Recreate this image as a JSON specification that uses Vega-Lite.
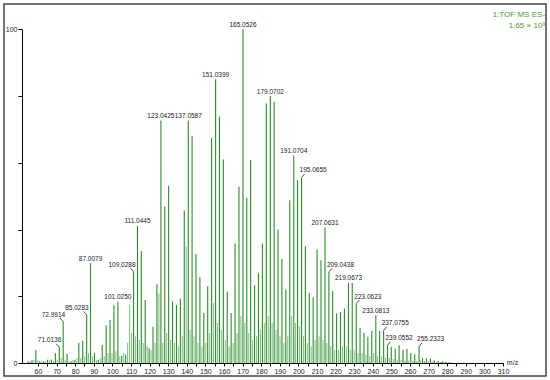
{
  "$schema": "https://vega.github.io/schema/vega-lite/v6.json",
  "width": 542,
  "height": 372,
  "padding": {"left": 4, "top": 4, "right": 4, "bottom": 4},
  "autosize": {"type": "none"},
  "background": "white",
  "config": {
    "font": "Liberation Sans",
    "view": {"stroke": "#444444", "strokeWidth": 1.5},
    "axis": {"grid": false, "domainColor": "#000000", "tickColor": "#000000", "labelColor": "#222222", "labelFontSize": 7, "labelFont": "Liberation Sans"}
  },
  "datasets": {
    "peaks": [
      {"mz": 55, "i": 0.5, "s": "main"}, {"mz": 57, "i": 0.8, "s": "main"}, {"mz": 59, "i": 3.9, "s": "main"}, {"mz": 61, "i": 0.5, "s": "main"},
      {"mz": 63, "i": 0.5, "s": "main"}, {"mz": 65, "i": 1, "s": "main"}, {"mz": 67, "i": 1, "s": "main"}, {"mz": 69, "i": 2.9, "s": "main"},
      {"mz": 71.0136, "i": 4.7, "s": "main", "label": "71.0136"}, {"mz": 72.9914, "i": 12.4, "s": "main", "label": "72.9914"},
      {"mz": 75, "i": 2.7, "s": "main"}, {"mz": 77, "i": 0.5, "s": "main"}, {"mz": 79, "i": 1, "s": "main"}, {"mz": 81, "i": 6.1, "s": "main"},
      {"mz": 83, "i": 6.7, "s": "main"}, {"mz": 85.0283, "i": 14.4, "s": "main", "label": "85.0283"}, {"mz": 87.0079, "i": 29.9, "s": "main", "label": "87.0079"},
      {"mz": 89, "i": 3.1, "s": "main"}, {"mz": 91, "i": 1, "s": "main"}, {"mz": 93, "i": 5.4, "s": "main"}, {"mz": 95, "i": 11.3, "s": "main"},
      {"mz": 97, "i": 12.9, "s": "main"}, {"mz": 99, "i": 17.4, "s": "main"}, {"mz": 101.025, "i": 18.4, "s": "main", "label": "101.0250"},
      {"mz": 103, "i": 2.2, "s": "main"}, {"mz": 105, "i": 2.5, "s": "main"}, {"mz": 107, "i": 17.4, "s": "minor"},
      {"mz": 109.0288, "i": 27.4, "s": "main", "label": "109.0288"}, {"mz": 111.0445, "i": 41.1, "s": "main", "label": "111.0445"},
      {"mz": 113, "i": 33.6, "s": "main"}, {"mz": 115, "i": 18.9, "s": "main"}, {"mz": 117, "i": 4.4, "s": "main"}, {"mz": 119, "i": 10.9, "s": "main"},
      {"mz": 121, "i": 23.6, "s": "main"}, {"mz": 123.0425, "i": 72.7, "s": "main", "label": "123.0425"}, {"mz": 125, "i": 46.9, "s": "main"},
      {"mz": 127, "i": 53.1, "s": "main"}, {"mz": 129, "i": 18.4, "s": "main"}, {"mz": 131, "i": 17.4, "s": "main"}, {"mz": 133, "i": 19.3, "s": "main"},
      {"mz": 135, "i": 45.7, "s": "main"}, {"mz": 137.0587, "i": 72.7, "s": "main", "label": "137.0587"}, {"mz": 139, "i": 68.1, "s": "main"},
      {"mz": 141, "i": 32.7, "s": "main"}, {"mz": 143, "i": 25.8, "s": "main"}, {"mz": 145, "i": 15, "s": "main"}, {"mz": 147, "i": 23, "s": "main"},
      {"mz": 149, "i": 67.4, "s": "main"}, {"mz": 151.0399, "i": 85, "s": "main", "label": "151.0399"}, {"mz": 153, "i": 73.8, "s": "main"},
      {"mz": 155, "i": 61, "s": "main"}, {"mz": 157, "i": 21.4, "s": "main"}, {"mz": 159, "i": 15, "s": "main"}, {"mz": 161, "i": 35.8, "s": "main"},
      {"mz": 163, "i": 52.8, "s": "main"}, {"mz": 165.0526, "i": 100, "s": "main", "label": "165.0526"}, {"mz": 167, "i": 49.5, "s": "main"},
      {"mz": 169, "i": 60.8, "s": "main"}, {"mz": 171, "i": 23.3, "s": "main"}, {"mz": 173, "i": 27, "s": "main"}, {"mz": 175, "i": 35.8, "s": "main"},
      {"mz": 177, "i": 77.8, "s": "main"}, {"mz": 179.0702, "i": 80, "s": "main", "label": "179.0702"}, {"mz": 181, "i": 78.3, "s": "main"},
      {"mz": 183, "i": 40, "s": "main"}, {"mz": 185, "i": 31.2, "s": "main"}, {"mz": 187, "i": 22, "s": "main"}, {"mz": 189, "i": 48.8, "s": "main"},
      {"mz": 191.0704, "i": 62.2, "s": "main", "label": "191.0704"}, {"mz": 193, "i": 54.8, "s": "main"}, {"mz": 195.0655, "i": 55.6, "s": "main", "label": "195.0655"},
      {"mz": 197, "i": 35, "s": "main"}, {"mz": 199, "i": 21, "s": "main"}, {"mz": 201, "i": 19.6, "s": "main"}, {"mz": 203, "i": 34, "s": "main"},
      {"mz": 205, "i": 30.8, "s": "main"}, {"mz": 207.0631, "i": 40.6, "s": "main", "label": "207.0631"}, {"mz": 209.0438, "i": 27.3, "s": "main", "label": "209.0438"},
      {"mz": 211, "i": 21.6, "s": "main"}, {"mz": 213, "i": 14.8, "s": "main"}, {"mz": 215, "i": 15.3, "s": "main"}, {"mz": 217, "i": 16.3, "s": "main"},
      {"mz": 219.0673, "i": 24, "s": "main", "label": "219.0673"}, {"mz": 221, "i": 24, "s": "main"}, {"mz": 223.0623, "i": 17.8, "s": "main", "label": "223.0623"},
      {"mz": 225, "i": 10.6, "s": "main"}, {"mz": 227, "i": 9, "s": "main"}, {"mz": 229, "i": 7.9, "s": "main"}, {"mz": 231, "i": 9.7, "s": "main"},
      {"mz": 233.0813, "i": 14.3, "s": "main", "label": "233.0813"}, {"mz": 235, "i": 9.6, "s": "main"}, {"mz": 237.0755, "i": 9.8, "s": "main", "label": "237.0755"},
      {"mz": 239.0552, "i": 5.3, "s": "main", "label": "239.0552"}, {"mz": 241, "i": 4.8, "s": "main"}, {"mz": 243, "i": 4.3, "s": "main"},
      {"mz": 245, "i": 5.3, "s": "main"}, {"mz": 247, "i": 4, "s": "main"}, {"mz": 249, "i": 4.3, "s": "main"}, {"mz": 251, "i": 3, "s": "main"},
      {"mz": 253, "i": 2.6, "s": "main"}, {"mz": 255.2323, "i": 5, "s": "main", "label": "255.2323"}, {"mz": 257, "i": 1.4, "s": "main"},
      {"mz": 259, "i": 1.4, "s": "main"}, {"mz": 261, "i": 1.3, "s": "main"}, {"mz": 263, "i": 0.8, "s": "main"}, {"mz": 265, "i": 0.6, "s": "main"},
      {"mz": 267, "i": 0.5, "s": "main"}, {"mz": 269, "i": 0.4, "s": "main"}, {"mz": 271, "i": 0.3, "s": "main"},
      {"mz": 56, "i": 0.5, "s": "minor"}, {"mz": 58, "i": 1, "s": "minor"}, {"mz": 60, "i": 0.8, "s": "minor"}, {"mz": 62, "i": 0.5, "s": "minor"},
      {"mz": 64, "i": 0.5, "s": "minor"}, {"mz": 66, "i": 0.8, "s": "minor"}, {"mz": 68, "i": 0.5, "s": "minor"}, {"mz": 70, "i": 1, "s": "minor"},
      {"mz": 72, "i": 1.5, "s": "minor"}, {"mz": 74, "i": 1, "s": "minor"}, {"mz": 76, "i": 0.5, "s": "minor"}, {"mz": 78, "i": 1, "s": "minor"},
      {"mz": 80, "i": 1.5, "s": "minor"}, {"mz": 82, "i": 1.5, "s": "minor"}, {"mz": 84, "i": 2, "s": "minor"}, {"mz": 86, "i": 3, "s": "minor"},
      {"mz": 88, "i": 2, "s": "minor"}, {"mz": 90, "i": 1, "s": "minor"}, {"mz": 92, "i": 1.5, "s": "minor"}, {"mz": 94, "i": 2, "s": "minor"},
      {"mz": 96, "i": 3, "s": "minor"}, {"mz": 98, "i": 3, "s": "minor"}, {"mz": 100, "i": 3.5, "s": "minor"}, {"mz": 102, "i": 2, "s": "minor"},
      {"mz": 104, "i": 3, "s": "minor"}, {"mz": 106, "i": 6, "s": "minor"}, {"mz": 108, "i": 9, "s": "minor"}, {"mz": 110, "i": 8, "s": "minor"},
      {"mz": 112, "i": 7, "s": "minor"}, {"mz": 114, "i": 6, "s": "minor"}, {"mz": 116, "i": 5, "s": "minor"}, {"mz": 118, "i": 4, "s": "minor"},
      {"mz": 120, "i": 6, "s": "minor"}, {"mz": 122, "i": 20.9, "s": "minor"}, {"mz": 124, "i": 6, "s": "minor"}, {"mz": 126, "i": 9, "s": "minor"},
      {"mz": 128, "i": 7, "s": "minor"}, {"mz": 130, "i": 6, "s": "minor"}, {"mz": 132, "i": 5, "s": "minor"}, {"mz": 134, "i": 8, "s": "minor"},
      {"mz": 136, "i": 34.9, "s": "minor"}, {"mz": 138, "i": 10, "s": "minor"}, {"mz": 140, "i": 8, "s": "minor"}, {"mz": 142, "i": 6, "s": "minor"},
      {"mz": 144, "i": 5, "s": "minor"}, {"mz": 146, "i": 6, "s": "minor"}, {"mz": 148, "i": 9, "s": "minor"}, {"mz": 150, "i": 18, "s": "minor"},
      {"mz": 152, "i": 12, "s": "minor"}, {"mz": 154, "i": 10, "s": "minor"}, {"mz": 156, "i": 7, "s": "minor"}, {"mz": 158, "i": 5, "s": "minor"},
      {"mz": 160, "i": 6, "s": "minor"}, {"mz": 162, "i": 9, "s": "minor"}, {"mz": 164, "i": 14, "s": "minor"}, {"mz": 166, "i": 12, "s": "minor"},
      {"mz": 168, "i": 9, "s": "minor"}, {"mz": 170, "i": 7, "s": "minor"}, {"mz": 172, "i": 8, "s": "minor"}, {"mz": 174, "i": 10, "s": "minor"},
      {"mz": 176, "i": 12, "s": "minor"}, {"mz": 178, "i": 14, "s": "minor"}, {"mz": 180, "i": 12, "s": "minor"}, {"mz": 182, "i": 10, "s": "minor"},
      {"mz": 184, "i": 8, "s": "minor"}, {"mz": 186, "i": 6, "s": "minor"}, {"mz": 188, "i": 8, "s": "minor"}, {"mz": 190, "i": 14, "s": "minor"},
      {"mz": 192, "i": 12, "s": "minor"}, {"mz": 194, "i": 11, "s": "minor"}, {"mz": 196, "i": 8, "s": "minor"}, {"mz": 198, "i": 6, "s": "minor"},
      {"mz": 200, "i": 5, "s": "minor"}, {"mz": 202, "i": 7, "s": "minor"}, {"mz": 204, "i": 8, "s": "minor"}, {"mz": 206, "i": 7, "s": "minor"},
      {"mz": 208, "i": 6, "s": "minor"}, {"mz": 210, "i": 5, "s": "minor"}, {"mz": 212, "i": 4, "s": "minor"}, {"mz": 214, "i": 4, "s": "minor"},
      {"mz": 216, "i": 5, "s": "minor"}, {"mz": 218, "i": 5, "s": "minor"}, {"mz": 220, "i": 4, "s": "minor"}, {"mz": 222, "i": 4, "s": "minor"},
      {"mz": 224, "i": 3, "s": "minor"}, {"mz": 226, "i": 3, "s": "minor"}, {"mz": 228, "i": 2.5, "s": "minor"}, {"mz": 230, "i": 2, "s": "minor"},
      {"mz": 232, "i": 3, "s": "minor"}, {"mz": 234, "i": 2, "s": "minor"}, {"mz": 236, "i": 2, "s": "minor"}, {"mz": 238, "i": 1.5, "s": "minor"},
      {"mz": 240, "i": 1.5, "s": "minor"}, {"mz": 242, "i": 1.2, "s": "minor"}, {"mz": 244, "i": 1, "s": "minor"}, {"mz": 246, "i": 1, "s": "minor"},
      {"mz": 248, "i": 0.8, "s": "minor"}, {"mz": 250, "i": 0.8, "s": "minor"}, {"mz": 252, "i": 0.7, "s": "minor"}, {"mz": 254, "i": 0.6, "s": "minor"},
      {"mz": 256, "i": 0.8, "s": "minor"}, {"mz": 258, "i": 0.6, "s": "minor"}, {"mz": 260, "i": 0.5, "s": "minor"}, {"mz": 262, "i": 0.5, "s": "minor"},
      {"mz": 264, "i": 0.4, "s": "minor"}, {"mz": 266, "i": 0.3, "s": "minor"}, {"mz": 268, "i": 0.3, "s": "minor"}, {"mz": 270, "i": 0.2, "s": "minor"}
    ]
  },
  "layer": [
    {
      "data": {"name": "peaks"},
      "encoding": {
        "x": {"field": "mz", "type": "quantitative", "scale": {"domain": [42.7, 320.21], "nice": false, "zero": false}, "axis": null},
        "y": {"field": "i", "type": "quantitative", "scale": {"domain": [0, 100], "range": [359, 25.3], "nice": false},
          "axis": {"values": [0, 10, 20, 30, 40, 50, 60, 70, 80, 90, 100], "labelExpr": "datum.value == 100 ? '100' : datum.value == 50 ? '%' : datum.value == 0 ? '0' : ''", "offset": -18, "tickSize": 4, "labelPadding": 1, "title": null}}
      },
      "layer": [
        {
          "transform": [{"filter": "datum.s == 'minor'"}],
          "mark": {"type": "rule", "strokeWidth": 1.1, "color": "#86c486"},
          "encoding": {"y2": {"datum": 0}}
        },
        {
          "transform": [{"filter": "datum.s == 'main'"}],
          "mark": {"type": "rule", "strokeWidth": 1.1, "color": "#2e8b2e"},
          "encoding": {"y2": {"datum": 0}}
        },
        {
          "transform": [{"filter": {"field": "label", "oneOf": ["87.0079", "101.0250", "111.0445", "123.0425", "137.0587", "151.0399", "165.0526", "179.0702", "191.0704", "207.0631", "219.0673", "233.0813"]}}],
          "mark": {"type": "text", "fontSize": 6.5, "baseline": "bottom", "align": "center", "dy": -1.5, "color": "#1a1a1a"},
          "encoding": {"text": {"field": "label"}}
        },
        {
          "transform": [{"filter": {"field": "label", "oneOf": ["71.0136", "72.9914", "85.0283", "109.0288"]}}],
          "mark": {"type": "text", "fontSize": 6.5, "baseline": "bottom", "align": "right", "dx": 2, "dy": -4, "color": "#1a1a1a"},
          "encoding": {"text": {"field": "label"}}
        },
        {
          "transform": [{"filter": {"field": "label", "oneOf": ["195.0655", "209.0438", "223.0623", "237.0755", "239.0552", "255.2323"]}}],
          "mark": {"type": "text", "fontSize": 6.5, "baseline": "bottom", "align": "left", "dx": -2, "dy": -4, "color": "#1a1a1a"},
          "encoding": {"text": {"field": "label"}}
        },
        {
          "transform": [{"filter": {"field": "label", "oneOf": ["71.0136", "72.9914", "85.0283", "109.0288"]}}],
          "mark": {"type": "rule", "strokeWidth": 0.8, "color": "#1a1a1a", "x2Offset": -3, "y2Offset": -3.5},
          "encoding": {"x2": {"field": "mz"}, "y2": {"field": "i"}}
        },
        {
          "transform": [{"filter": {"field": "label", "oneOf": ["195.0655", "209.0438", "223.0623", "237.0755", "239.0552", "255.2323"]}}],
          "mark": {"type": "rule", "strokeWidth": 0.8, "color": "#1a1a1a", "x2Offset": 3, "y2Offset": -3.5},
          "encoding": {"x2": {"field": "mz"}, "y2": {"field": "i"}}
        }
      ]
    },
    {
      "data": {"values": [{"t": "m/z", "ax": 311, "ay": 0}]},
      "layer": [
        {
          "mark": {"type": "text", "fontSize": 7, "align": "left", "baseline": "middle", "dx": 2, "color": "#222222"},
          "encoding": {
            "x": {"field": "ax", "type": "quantitative", "scale": {"domain": [51.4, 310], "range": [18, 499], "nice": false, "zero": false},
              "axis": {"values": [60, 65, 70, 75, 80, 85, 90, 95, 100, 105, 110, 115, 120, 125, 130, 135, 140, 145, 150, 155, 160, 165, 170, 175, 180, 185, 190, 195, 200, 205, 210, 215, 220, 225, 230, 235, 240, 245, 250, 255, 260, 265, 270, 275, 280, 285, 290, 295, 300, 305, 310],
                "labelExpr": "datum.value % 10 == 0 ? datum.label : ''", "offset": -13, "tickSize": 3, "labelPadding": 1, "title": null, "labelFlush": false, "labelOverlap": false}},
            "y": {"field": "ay", "type": "quantitative"},
            "text": {"field": "t"}
          }
        }
      ]
    },
    {
      "data": {"values": [{"line1": "1:TOF MS ES-", "line2": "1.65 × 10³"}]},
      "mark": {"type": "text", "fontSize": 8, "align": "right", "baseline": "top", "color": "#4f9a2f", "lineHeight": 11, "x": 541, "y": 7},
      "encoding": {"text": {"value": ["1:TOF MS ES-", "1.65 × 10³"]}}
    }
  ],
  "resolve": {"scale": {"x": "independent"}, "axis": {"x": "independent"}}
}
